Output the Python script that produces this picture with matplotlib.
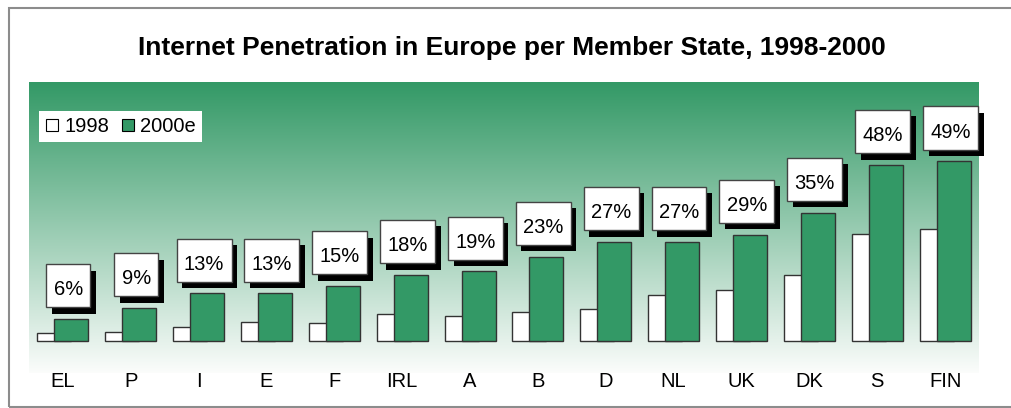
import numpy as np
import matplotlib
matplotlib.use("Agg")
import matplotlib.pyplot as plt
import matplotlib.patheffects as pe
from matplotlib.lines import Line2D
from matplotlib.patches import Rectangle
from matplotlib.path import Path

# ---------------------------------------------------------------------------
# Data
# ---------------------------------------------------------------------------
countries = ["EL", "P", "I", "E", "F", "IRL", "A", "B", "D", "NL", "UK", "DK", "S", "FIN"]
pen_1998 = [2.2, 2.4, 3.8, 5.2, 4.9, 7.3, 6.8, 7.9, 8.8, 12.5, 13.9, 18.0, 29.2, 30.5]
pen_2000e = [6, 9, 13, 13, 15, 18, 19, 23, 27, 27, 29, 35, 48, 49]
series_names = ["1998", "2000e"]

green = "#339966"
edge = "#333333"

plt.rcParams["font.family"] = ["Liberation Sans", "DejaVu Sans"]


def label_box(x0, y0, width, height, mutation_size):
    # square box, more padding vertically (esp. on top) than horizontally
    px = 0.36 * mutation_size
    py_top = 0.8 * mutation_size
    py_bot = 0.4 * mutation_size
    x0, x1 = x0 - px, x0 + width + px
    y0, y1 = y0 - py_bot, y0 + height + py_top
    return Path([(x0, y0), (x1, y0), (x1, y1), (x0, y1), (x0, y0)], closed=True)


fig = plt.figure(figsize=(10.11, 4.08), dpi=100)

# outer frame (grey line, the right side is cut off in the original)
fig.patches.append(Rectangle((9 / 1011, 1 / 408), 1.2, 399 / 408,
                             transform=fig.transFigure, fill=False,
                             edgecolor="#8c8c8c", lw=1.5))

fig.text(512 / 1011, 1 - 47.5 / 408,
         "Internet Penetration in Europe per Member State, 1998-2000",
         ha="center", va="center", fontsize=19, fontweight="bold")

ax = fig.add_axes([29 / 1011, 35 / 408, 950 / 1011, 291 / 408])
ax.set_xlim(-0.5, len(countries) - 0.5)
ax.set_ylim(-8.7, 70.6)

# green -> white vertical gradient behind the bars
top = np.array([0.20, 0.60, 0.40])
bot = np.array([0.985, 0.99, 0.985])
frac = np.linspace(0, 1, 256)[:, None]
grad = (top + (bot - top) * frac)[:, None, :]
ax.imshow(grad, extent=(-0.5, len(countries) - 0.5, -8.7, 70.6),
          aspect="auto", origin="upper", zorder=0, interpolation="bicubic")

x = np.arange(len(countries))
w = 0.5
ax.bar(x - 0.125, pen_1998, width=w, color="white", edgecolor=edge,
       linewidth=1, zorder=2)
ax.bar(x + 0.125, pen_2000e, width=w, color=green, edgecolor=edge,
       linewidth=1, zorder=3)

# value boxes with a hard black drop shadow
for xi, v in zip(x, pen_2000e):
    t = ax.annotate(f"{v}%", xy=(xi + 0.08, v), xytext=(0, 21),
                    textcoords="offset points", ha="center", va="center",
                    fontsize=14.5, zorder=5,
                    bbox=dict(boxstyle=label_box, fc="white",
                              ec="#444444", lw=1))
    t.get_bbox_patch().set_path_effects([
        pe.SimplePatchShadow(offset=(4, -4.5), shadow_rgbFace="black", alpha=1),
        pe.Normal()])

ax.set_xticks(x)
ax.set_xticklabels(countries, fontsize=14.5)
ax.tick_params(axis="x", length=0, pad=-1)
ax.set_yticks([])
for s in ax.spines.values():
    s.set_visible(False)

handles = [Line2D([], [], ls="none", marker="s", markersize=9,
                  markerfacecolor=c, markeredgecolor="black", markeredgewidth=0.8)
           for c in ("white", green)]
leg = ax.legend(handles, series_names, loc="upper left",
                bbox_to_anchor=(0.0105, 0.9), borderaxespad=0, ncol=2,
                fontsize=14.5, frameon=True, fancybox=False, framealpha=1,
                edgecolor="white", handlelength=0.7, handletextpad=0.25,
                columnspacing=0.6, borderpad=0.3)
leg.get_frame().set_linewidth(0)
leg.set_zorder(6)

fig.savefig("out.png", dpi=100)
